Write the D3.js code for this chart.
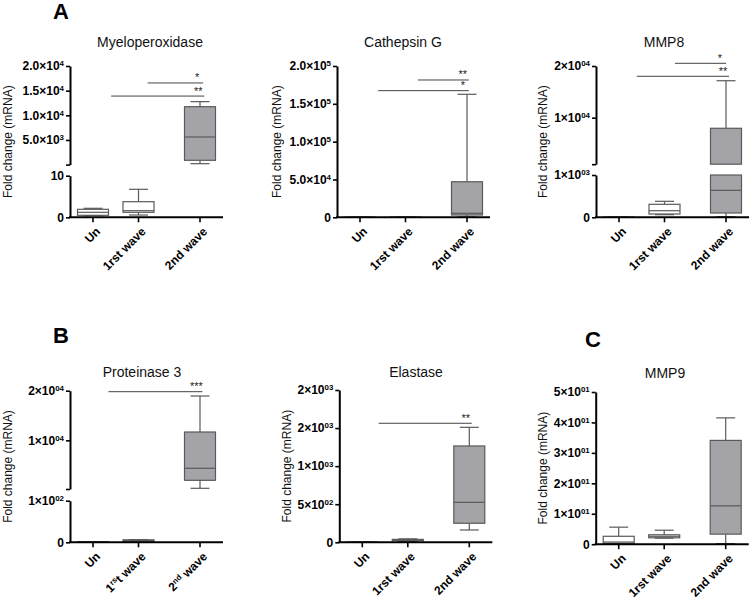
<!DOCTYPE html>
<html><head><meta charset="utf-8">
<script src="https://cdn.jsdelivr.net/npm/d3@7"></script>
<style>body{margin:0;background:#fff} svg text{font-family:"Liberation Sans",Arial,sans-serif}</style>
</head><body><svg id="c" width="750" height="597"></svg>
<script>
// ---------- DATA ----------
const categories = ["Un", "1rst wave", "2nd wave"];
const categoriesB = ["Un", "1^rs^t wave", "2^nd^ wave"];
// box stats per group: [min, q1, median, q3, max]
const mpoStats  = [[0.4, 0.48, 1.2, 1.92, 2.16], [0.55, 1.2, 1.59, 3.75, 6.73], [180, 870, 5600, 11750, 12770]];
const ctsgStats = [[0.5, 0.8, 1, 1.5, 2], [1, 2, 3, 5, 8], [500, 3000, 5300, 47000, 162600]];
const mmp8Stats = [[0.5, 1, 1.5, 2, 3], [62, 78, 156, 307, 378], [15, 102, 638, 7950, 17150]];
const pr3Stats  = [[0.5, 0.8, 1, 1.2, 1.5], [1, 1.5, 4, 6, 6.3], [340, 1950, 4370, 11680, 18930]];
const elaStats  = [[0.5, 0.8, 1, 1.3, 1.6], [12, 20, 28, 38, 45], [162, 250, 525, 1265, 1510]];
const mmp9Stats = [[0.1, 0.3, 0.7, 2.6, 5.6], [2.0, 2.1, 2.6, 3.1, 4.6], [0.2, 3.3, 12.6, 34.1, 41.5]];

const mpoTickValues  = [0, 10, 5000, 10000, 15000, 20000];
const mpoTickLabels  = ["0", "10", "5.0\u00d710^3", "1.0\u00d710^4", "1.5\u00d710^4", "2.0\u00d710^4"];
const ctsgTickValues = [0, 50000, 100000, 150000, 200000];
const ctsgTickLabels = ["0", "5.0\u00d710^4", "1.0\u00d710^5", "1.5\u00d710^5", "2.0\u00d710^5"];
const mmp8TickValues = [0, 1000, 10000, 20000];
const mmp8TickLabels = ["0", "1\u00d710^03", "1\u00d710^04", "2\u00d710^04"];
const pr3TickValues  = [0, 100, 10000, 20000];
const pr3TickLabels  = ["0", "1\u00d710^02", "1\u00d710^04", "2\u00d710^04"];
const elaTickValues  = [0, 500, 1000, 1500, 2000];
const elaTickLabels  = ["0", "5\u00d710^02", "1\u00d710^03", "2\u00d710^03", "2\u00d710^03"];
const mmp9TickValues = [0, 10, 20, 30, 40, 50];
const mmp9TickLabels = ["0", "1\u00d710^01", "2\u00d710^01", "3\u00d710^01", "4\u00d710^01", "5\u00d710^01"];

// significance bars: from/to in category-slot units, y in data units
const mpoSig  = [{from: 1.15, to: 2.05, y: 16560, label: "*"}, {from: 0.40, to: 2.07, y: 13900, label: "**"}];
const ctsgSig = [{from: 1.20, to: 2.03, y: 181500, label: "**"}, {from: 0.40, to: 2.03, y: 167400, label: "*"}];
const mmp8Sig = [{from: 1.17, to: 2.00, y: 20520, label: "*"}, {from: 0.39, to: 2.05, y: 18010, label: "**"}];
const pr3Sig  = [{from: 0.34, to: 2.04, y: 19800, label: "***"}];
const elaSig  = [{from: 0.36, to: 2.04, y: 1563, label: "**"}];
const mmp9Sig = [];

const panelTitles = ["Myeloperoxidase", "Cathepsin G", "MMP8", "Proteinase 3", "Elastase", "MMP9"];
const yAxisTitle = "Fold change (mRNA)";

// ---------- LAYOUT ----------
const panels = [
  {title: panelTitles[0], stats: mpoStats, tv: mpoTickValues, tl: mpoTickLabels, sig: mpoSig, cats: categories,
   x0: 70, segs: [{d: [0, 10], r: [217.3, 175.7]}, {d: [0, 20000], r: [164.6, 66]}], tx: 150, ty: 47, lx: 12},
  {title: panelTitles[1], stats: ctsgStats, tv: ctsgTickValues, tl: ctsgTickLabels, sig: ctsgSig, cats: categories,
   x0: 337, segs: [{d: [0, 200000], r: [217.3, 66]}], tx: 403, ty: 47, lx: 281},
  {title: panelTitles[2], stats: mmp8Stats, tv: mmp8TickValues, tl: mmp8TickLabels, sig: mmp8Sig, cats: categories,
   x0: 596, segs: [{d: [0, 1000], r: [217.3, 175]}, {d: [1000, 20000], r: [164.2, 66]}], tx: 664, ty: 47, lx: 547},
  {title: panelTitles[3], stats: pr3Stats, tv: pr3TickValues, tl: pr3TickLabels, sig: pr3Sig, cats: categoriesB,
   x0: 70, segs: [{d: [0, 100], r: [542.3, 500.7]}, {d: [200, 20000], r: [489, 390.7]}], tx: 142, ty: 377, lx: 12},
  {title: panelTitles[4], stats: elaStats, tv: elaTickValues, tl: elaTickLabels, sig: elaSig, cats: categories,
   x0: 339.3, segs: [{d: [0, 2000], r: [542.3, 390]}], tx: 416, ty: 377, lx: 291},
  {title: panelTitles[5], stats: mmp9Stats, tv: mmp9TickValues, tl: mmp9TickLabels, sig: mmp9Sig, cats: categories,
   x0: 595.7, segs: [{d: [0, 50], r: [544.2, 392]}], tx: 665, ty: 378, lx: 547}
];
const letters = [{t: "A", x: 53, y: 19}, {t: "B", x: 53, y: 343}, {t: "C", x: 585, y: 347}];

const svg = d3.select("#c");
const boxW = 31, capW = 19, axisLen = 153;
const grey = "#a3a3a8", edge = "#5a5a5a";

function addRich(sel, str) {
  // "^" toggles superscript
  const parts = str.split("^");
  sel.text(null);
  let sup = false, shifted = false;
  parts.forEach((p, i) => {
    if (p.length) {
      const t = sel.append("tspan").text(p);
      if (sup) { t.attr("font-size", "0.66em").attr("dy", "-0.5em"); shifted = true; }
      else if (shifted) { t.attr("dy", "0.33em"); shifted = false; }
    }
    sup = !sup;
  });
}

panels.forEach(p => {
  const g = svg.append("g");
  const slot = d3.scaleLinear().domain([0, 1, 2]).range([p.x0 + 23, p.x0 + 68.5, p.x0 + 130]);
  const yBase = p.segs[0].r[0];
  const scales = p.segs.map((s, i) => {
    const y = d3.scaleLinear().domain(s.d).range(s.r);
    const effLo = i === 0 ? s.d[0] : Math.max(s.d[0], p.segs[i - 1].d[1]);
    return {y, lo: effLo, hi: s.d[1], first: i === 0};
  });

  // boxes
  p.stats.forEach((st, ci) => {
    const [mn, q1, md, q3, mx] = st;
    const cx = slot(ci);
    const fill = ci === 2 ? grey : "#fff";
    scales.forEach(sc => {
      const {y, lo, hi, first} = sc;
      const inS = v => (first ? v >= lo : v > lo) && v <= hi;
      const span = (a, b) => {
        const A = Math.max(a, lo), B = Math.min(b, hi);
        return (B > A || (first && B >= A)) ? [A, B] : null;
      };
      const bx = span(q1, q3);
      if (bx) g.append("rect").attr("x", cx - boxW / 2).attr("width", boxW)
        .attr("y", y(bx[1])).attr("height", Math.max(0.01, y(bx[0]) - y(bx[1])))
        .attr("fill", fill).attr("stroke", edge).attr("stroke-width", 1.2);
      const wu = span(q3, mx);
      if (wu) g.append("line").attr("x1", cx).attr("x2", cx).attr("y1", y(wu[0])).attr("y2", y(wu[1]))
        .attr("stroke", edge).attr("stroke-width", 1.2);
      const wl = span(mn, q1);
      if (wl) g.append("line").attr("x1", cx).attr("x2", cx).attr("y1", y(wl[0])).attr("y2", y(wl[1]))
        .attr("stroke", edge).attr("stroke-width", 1.2);
      [mn, mx].forEach(v => {
        if (inS(v)) g.append("line").attr("x1", cx - capW / 2).attr("x2", cx + capW / 2)
          .attr("y1", y(v)).attr("y2", y(v)).attr("stroke", edge).attr("stroke-width", 1.2);
      });
      if (inS(md)) g.append("line").attr("x1", cx - boxW / 2).attr("x2", cx + boxW / 2)
        .attr("y1", y(md)).attr("y2", y(md)).attr("stroke", edge).attr("stroke-width", 1.2);
    });
  });

  // y axis segments
  scales.forEach((sc, i) => {
    const seg = p.segs[i];
    const vals = p.tv.filter(v => (sc.first ? v >= sc.lo : v > sc.lo) && v <= sc.hi);
    const all = Array.from(new Set(vals.concat(seg.d)));
    const ax = d3.axisLeft(sc.y).tickValues(all).tickSize(4).tickSizeOuter(0).tickPadding(2)
      .tickFormat(v => vals.includes(v) ? p.tl[p.tv.indexOf(v)] : "");
    const ag = g.append("g").attr("transform", `translate(${p.x0},0)`).call(ax);
    ag.select(".domain").attr("stroke", "#000").attr("stroke-width", 2);
    ag.selectAll(".tick line").attr("stroke", "#000").attr("stroke-width", 1.6);
    ag.selectAll(".tick text").attr("fill", "#000").attr("font-size", 12).attr("font-weight", "bold")
      .attr("font-family", '"Liberation Sans",Arial,sans-serif')
      .each(function () { addRich(d3.select(this), this.textContent); });
  });

  // x axis
  g.append("line").attr("x1", p.x0 - 1).attr("x2", p.x0 + axisLen).attr("y1", yBase).attr("y2", yBase)
    .attr("stroke", "#000").attr("stroke-width", 2);
  p.cats.forEach((c, ci) => {
    const cx = slot(ci);
    g.append("line").attr("x1", cx).attr("x2", cx).attr("y1", yBase).attr("y2", yBase + 5)
      .attr("stroke", "#000").attr("stroke-width", 1.6);
    const t = g.append("text").attr("transform", `translate(${cx + 5},${yBase + 12}) rotate(-45)`)
      .attr("text-anchor", "end").attr("dy", "0.35em").attr("font-size", 12).attr("font-weight", "bold")
      .attr("fill", "#000");
    addRich(t, c);
  });

  // significance bars
  const yTop = scales[scales.length - 1].y;
  p.sig.forEach(s => {
    const yy = yTop(s.y);
    g.append("line").attr("x1", slot(s.from)).attr("x2", slot(s.to)).attr("y1", yy).attr("y2", yy)
      .attr("stroke", "#444").attr("stroke-width", 1);
    g.append("text").attr("x", slot(s.to) - 6).attr("y", yy - 1.5).attr("text-anchor", "middle")
      .attr("font-size", 11).attr("fill", "#222").text(s.label);
  });

  // title
  g.append("text").attr("x", p.tx).attr("y", p.ty).attr("text-anchor", "middle")
    .attr("font-size", 14).attr("fill", "#111").text(p.title);

  // y axis title
  const top = p.segs[p.segs.length - 1].r[1];
  g.append("text").attr("transform", `translate(${p.lx},${(top + yBase) / 2}) rotate(-90)`)
    .attr("text-anchor", "middle").attr("font-size", 12).attr("fill", "#111").text(yAxisTitle);
});

svg.selectAll(".letter").data(letters).enter().append("text")
  .attr("x", d => d.x).attr("y", d => d.y).attr("font-size", 22).attr("font-weight", "bold")
  .attr("fill", "#000").text(d => d.t);
</script></body></html>
